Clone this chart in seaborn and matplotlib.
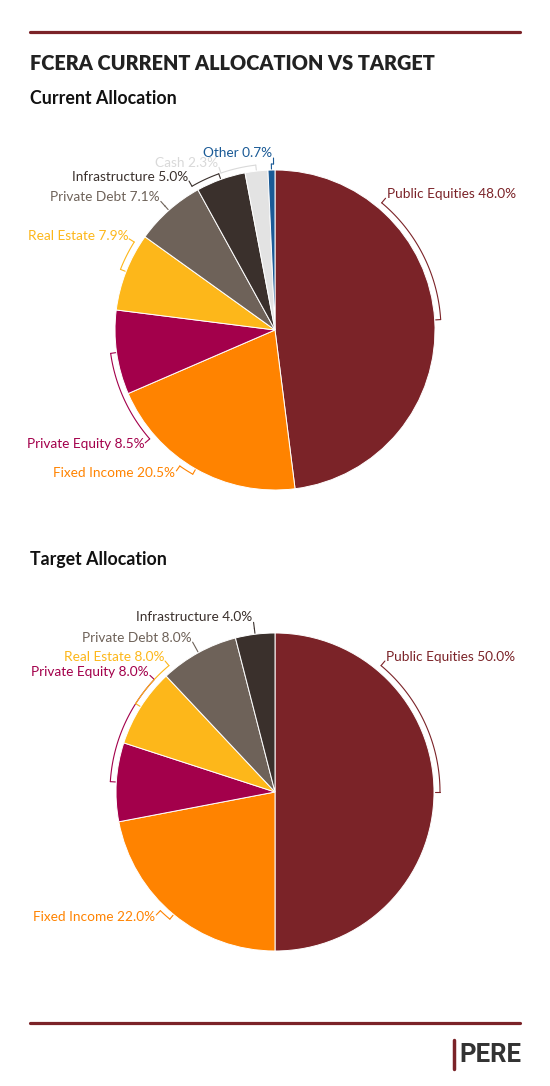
import numpy as np
import matplotlib
matplotlib.use("Agg")
import matplotlib.pyplot as plt
import seaborn as sns

# datos
categorias = ["Public Equities", "Fixed Income", "Private Equity", "Real Estate",
              "Private Debt", "Infrastructure", "Cash", "Other"]
actual = [48.0, 20.5, 8.5, 7.9, 7.1, 5.0, 2.3, 0.7]

categorias_obj = ["Public Equities", "Fixed Income", "Private Equity", "Real Estate",
                  "Private Debt", "Infrastructure"]
objetivo = [50.0, 22.0, 8.0, 8.0, 8.0, 4.0]

colores = {
    "Public Equities": "#7b2328",
    "Fixed Income": "#ff8300",
    "Private Equity": "#a3004b",
    "Real Estate": "#fdb71a",
    "Private Debt": "#6e6259",
    "Infrastructure": "#3a302c",
    "Cash": "#e3e3e3",
    "Other": "#1a5a96",
}
colores_texto = dict(colores, Cash="#d9d9d9")

# angulo (grados, horario desde arriba) donde se coloca cada etiqueta
ang_etq_actual = [40, 215, 229, 302, 318.4, 330, 341, 359.5]
ang_etq_obj = [40, 224, 313, 320, 331.2, 352.8]

sns.set_theme(style="white")
plt.rcParams["font.family"] = ["Lato", "DejaVu Sans"]

W, H = 550, 1086
fig = plt.figure(figsize=(W / 100, H / 100), dpi=100)
ESC = 160.0  # px por unidad


def dibujar_pie(cy, radio_px, cats, vals, angs):
    ax = fig.add_axes([0, (H - cy - 275) / H, 1, 550 / H])
    lim = 275 / ESC
    r = radio_px / ESC
    ax.pie(vals, radius=r, startangle=90, counterclock=False,
           colors=[colores[c] for c in cats],
           wedgeprops=dict(edgecolor="white", linewidth=0.7))
    ax.set_xlim(-lim, lim)
    ax.set_ylim(-lim, lim)
    ax.set_aspect("equal")
    ax.axis("off")

    total = sum(vals)
    acum = np.cumsum([0] + list(vals))
    rb = r + 6 / ESC
    rt = r + 12 / ESC
    for i, c in enumerate(cats):
        mid = (acum[i] + acum[i + 1]) / 2 / total * 360
        aL = angs[i]
        col = colores_texto[c]
        # arco desde la etiqueta hasta la mitad de la porcion
        th = np.radians(np.linspace(aL, mid, 60))
        ax.plot(rb * np.sin(th), rb * np.cos(th), color=col, lw=0.8)
        tm = np.radians(mid)
        ax.plot([rb * np.sin(tm), (r + 1 / ESC) * np.sin(tm)],
                [rb * np.cos(tm), (r + 1 / ESC) * np.cos(tm)], color=col, lw=0.8)
        tl = np.radians(aL)
        tx, ty = rt * np.sin(tl), rt * np.cos(tl)
        ax.plot([tx, rb * np.sin(tl)], [ty, rb * np.cos(tl)], color=col, lw=0.8)
        derecha = np.sin(tl) > 0
        ax.text(tx + (1 if derecha else -1) / ESC, ty + (1 + 4 * np.cos(tl)) / ESC,
                f"{c} {vals[i]:.1f}%",
                ha="left" if derecha else "right", va="center",
                fontsize=9.8, color=col, fontweight="normal")


dibujar_pie(330, 160, categorias, actual, ang_etq_actual)
dibujar_pie(792, 159, categorias_obj, objetivo, ang_etq_obj)

# lineas y textos
rojo = "#7b2328"
fig.add_artist(plt.Line2D([30 / W, 520 / W], [1 - 32 / H, 1 - 32 / H], color=rojo, lw=2.3))
fig.add_artist(plt.Line2D([30 / W, 520 / W], [1 - 1023 / H, 1 - 1023 / H], color=rojo, lw=2.3))
fig.text(30 / W, 1 - 64 / H, "FCERA CURRENT ALLOCATION VS TARGET", fontsize=14.3,
         fontweight="heavy", color="#222222", va="center", ha="left")
fig.text(30 / W, 1 - 98 / H, "Current Allocation", fontsize=12.8,
         fontweight="bold", color="#111111", va="center", ha="left")
fig.text(30 / W, 1 - 560 / H, "Target Allocation", fontsize=12.8,
         fontweight="bold", color="#111111", va="center", ha="left")

# logo
fig.add_artist(plt.Line2D([454 / W, 454 / W], [1 - 1040 / H, 1 - 1069 / H], color=rojo, lw=2.5))
fig.text(459 / W, 1 - 1055 / H, "PERE", fontsize=18.5, fontweight="bold",
         family=["Roboto", "DejaVu Sans"], color="#333333",
         va="center", ha="left")

fig.savefig("out.png", dpi=100, facecolor="white")
